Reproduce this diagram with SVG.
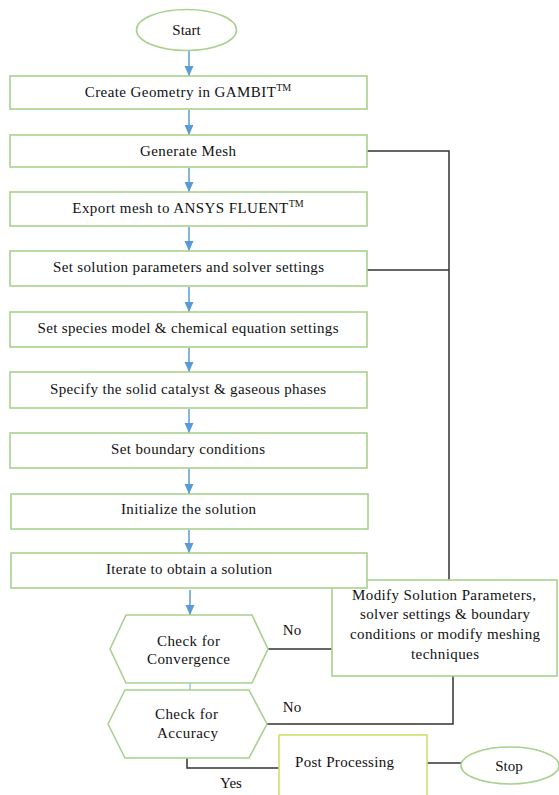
<svg xmlns="http://www.w3.org/2000/svg" width="559" height="795" viewBox="0 0 559 795">
<style>
.box{fill:#fff;stroke:#a9d18e;stroke-width:1.6}
.post{fill:#fff;stroke:#c8e26e;stroke-width:1.6}
.t{font-family:"Liberation Serif","Times New Roman",serif;font-size:15px;fill:#111;text-anchor:middle}
.sup{font-size:10px}
.arr{stroke:#5b9bd5;stroke-width:1.5;fill:none;marker-end:url(#ah)}
.blue{stroke:#9dc3e6;stroke-width:1.5;fill:none}
.con{stroke:#333;stroke-width:1.5;fill:none}
</style>
<defs>
<marker id="ah" markerUnits="userSpaceOnUse" markerWidth="10" markerHeight="10" viewBox="0 0 10 10" refX="10" refY="5" orient="auto">
<path d="M0,0.5 L10,5 L0,9.5 Z" fill="#5b9bd5"/>
</marker>
</defs>
<rect width="559" height="795" fill="#fff"/>
<g id="connectors">
<line class="arr" x1="189" y1="51" x2="189" y2="76"/>
<line class="arr" x1="189" y1="110" x2="189" y2="135"/>
<line class="arr" x1="189" y1="168" x2="189" y2="192"/>
<line class="arr" x1="189" y1="227" x2="189" y2="251"/>
<line class="arr" x1="189" y1="287" x2="189" y2="312"/>
<line class="arr" x1="189" y1="348" x2="189" y2="372"/>
<line class="arr" x1="189" y1="409" x2="189" y2="433"/>
<line class="arr" x1="189" y1="469" x2="189" y2="494"/>
<line class="arr" x1="189" y1="530" x2="189" y2="553"/>
<line class="arr" x1="190" y1="590" x2="190" y2="615"/>
<line class="blue" x1="190" y1="683" x2="190" y2="690"/>
<polyline class="con" points="367,151 449,151 449,580"/>
<line class="con" x1="367" y1="270" x2="449" y2="270"/>
<line class="con" x1="268" y1="649" x2="332" y2="649"/>
<polyline class="con" points="267,724 453,724 453,676"/>
<polyline class="con" points="187,758 187,768 280,768"/>
<line class="con" x1="427" y1="763" x2="461" y2="763"/>
<text class="t" x="292" y="635">No</text>
<text class="t" x="292" y="712">No</text>
<text class="t" x="231" y="788">Yes</text>
</g>
<g id="start">
<ellipse class="box" cx="186.5" cy="30" rx="50" ry="20.5"/>
<text class="t" x="186.5" y="35">Start</text>
</g>
<g id="create">
<rect class="box" x="10" y="76" width="357" height="33"/>
<text class="t" x="188" y="97"><tspan textLength="191" lengthAdjust="spacing">Create Geometry in GAMBIT</tspan><tspan class="sup" dy="-6">TM</tspan></text>
</g>
<g id="generate">
<rect class="box" x="10" y="135" width="357" height="32"/>
<text class="t" x="188" y="156" textLength="96" lengthAdjust="spacing">Generate Mesh</text>
</g>
<g id="export">
<rect class="box" x="10" y="192" width="357" height="34"/>
<text class="t" x="188" y="213"><tspan textLength="216" lengthAdjust="spacing">Export mesh to ANSYS FLUENT</tspan><tspan class="sup" dy="-6">TM</tspan></text>
</g>
<g id="solution">
<rect class="box" x="10" y="251" width="357" height="35"/>
<text class="t" x="188.5" y="272" textLength="271" lengthAdjust="spacing">Set solution parameters and solver settings</text>
</g>
<g id="species">
<rect class="box" x="10" y="312" width="357" height="35"/>
<text class="t" x="188" y="333" textLength="301" lengthAdjust="spacing">Set species model &amp; chemical equation settings</text>
</g>
<g id="specify">
<rect class="box" x="10" y="372" width="357" height="36"/>
<text class="t" x="188" y="394" textLength="276" lengthAdjust="spacing">Specify the solid catalyst &amp; gaseous phases</text>
</g>
<g id="boundary">
<rect class="box" x="10" y="433" width="357" height="35"/>
<text class="t" x="188" y="454" textLength="154" lengthAdjust="spacing">Set boundary conditions</text>
</g>
<g id="initialize">
<rect class="box" x="11" y="494" width="357" height="35"/>
<text class="t" x="188.5" y="514" textLength="135" lengthAdjust="spacing">Initialize the solution</text>
</g>
<g id="modify">
<rect class="box" x="332" y="580" width="225" height="96"/>
<text class="t" x="444" y="600" textLength="184" lengthAdjust="spacing">Modify Solution Parameters,</text>
<text class="t" x="445" y="619" textLength="170" lengthAdjust="spacing">solver settings &amp; boundary</text>
<text class="t" x="445" y="639" textLength="190" lengthAdjust="spacing">conditions or modify meshing</text>
<text class="t" x="445" y="659" textLength="68" lengthAdjust="spacing">techniques</text>
</g>
<g id="iterate">
<rect class="box" x="11" y="553" width="356" height="35"/>
<text class="t" x="189" y="574" textLength="166" lengthAdjust="spacing">Iterate to obtain a solution</text>
</g>
<g id="convergence">
<polygon class="box" points="110,649 126,615 252,615 268,649 252,683 126,683"/>
<text class="t" x="188.5" y="646" textLength="63" lengthAdjust="spacing">Check for</text>
<text class="t" x="188.5" y="664" textLength="83" lengthAdjust="spacing">Convergence</text>
</g>
<g id="accuracy">
<polygon class="box" points="108,724 125,690 249,690 267,724 249,758 125,758"/>
<text class="t" x="186.5" y="719" textLength="63" lengthAdjust="spacing">Check for</text>
<text class="t" x="187.5" y="738" textLength="61" lengthAdjust="spacing">Accuracy</text>
</g>
<g id="post">
<rect class="post" x="279" y="735" width="148" height="70"/>
<text class="t" x="344.5" y="767" textLength="99" lengthAdjust="spacing">Post Processing</text>
</g>
<g id="stop">
<ellipse class="box" cx="510" cy="765.5" rx="49" ry="18.5"/>
<text class="t" x="509" y="771">Stop</text>
</g>
</svg>
